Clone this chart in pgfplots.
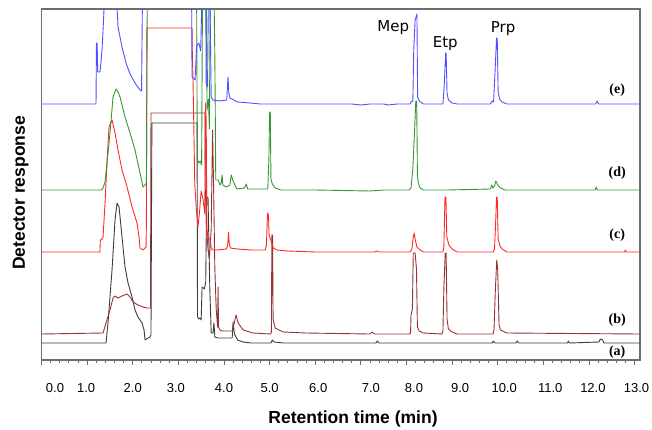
\documentclass[border=0pt]{standalone}
\usepackage{fontspec}
\setmainfont{Liberation Sans}
\newfontfamily\lserif{Liberation Serif}
\newfontfamily\dejavu{DejaVu Sans}
\usepackage{pgfplots}
\pgfplotsset{compat=1.18}
\definecolor{cblue}{RGB}{80,80,255}
\definecolor{cgreen}{RGB}{50,150,50}
\definecolor{cred}{RGB}{255,40,40}
\definecolor{cbrown}{RGB}{150,50,50}
\definecolor{cblack}{RGB}{60,60,60}
\definecolor{axgray}{RGB}{110,110,110}
\newcommand{\xtl}[2]{\makebox[0pt]{\hspace*{#1}#2}}
\begin{document}
\begin{tikzpicture}
\path[use as bounding box] (0,0) rectangle (652pt,429pt);
\begin{axis}[
  at={(41.5pt,69pt)}, anchor=south west,
  scale only axis, width=598.5pt, height=351pt,
  xmin=0, xmax=13.12, ymin=69, ymax=420,
  ytick=\empty,
  xtick={0,1,...,13}, minor x tick num=4,
  xtick pos=left, tick align=outside,
  major tick length=5pt, minor tick length=3pt,
  axis line style={draw=axgray, line width=1.2pt},
  tick style={draw=axgray, line width=0.8pt},
  xticklabels={\xtl{27pt}{0.0},\xtl{-2pt}{1.0},\xtl{0pt}{2.0},\xtl{-5pt}{3.0},\xtl{0pt}{4.0},\xtl{0pt}{5.0},\xtl{6pt}{6.0},\xtl{20pt}{7.0},\xtl{15pt}{8.0},\xtl{16pt}{9.0},\xtl{13pt}{10.0},\xtl{14pt}{11.0},\xtl{8pt}{12.0},\xtl{4pt}{13.0}},
  xticklabel style={font=\fontsize{13}{15}\selectfont, anchor=base, yshift=-27pt},
  xlabel={Retention time (min)},
  xlabel style={font=\bfseries\fontsize{17.5}{20}\selectfont, at={(axis description cs:0.5205,-0.1795)}, anchor=base},
  ylabel={Detector response},
  ylabel style={font=\bfseries\fontsize{17.5}{20}\selectfont, at={(axis description cs:-0.0276,0.476)}, anchor=base},
  every axis plot/.append style={line width=0.9pt, line join=round},
]
% (a) black
\addplot[cblack] coordinates {
(0,86)(1.414,86)(1.458,106)(1.546,159)(1.612,209)(1.656,226)(1.70,222)(1.765,192)(1.831,162)(1.897,146)(1.985,132)(2.050,119)(2.116,112)(2.204,106)(2.248,99)(2.270,89)(2.336,91)(2.379,92)(2.40,94)(2.42,306)(3.41,306)(3.42,112)(3.454,110)(3.476,111)(3.50,109)(3.52,142)(3.57,140)(3.60,147)(3.62,232)(3.65,232)(3.69,140)(3.72,96)(3.76,96)(3.78,106)(3.80,92)(3.87,91)(4.18,91)(4.20,107)(4.23,95)(4.30,89)(4.42,87)(4.6,86)(5.03,86)(5.06,89)(5.1,87)(5.3,86)(7.33,86)(7.36,88)(7.4,86)(9.88,86)(9.90,88)(9.94,86)(10.40,86)(10.43,88)(10.46,86)(11.53,86)(11.55,88)(11.57,86)(12.22,87)(12.25,90)(12.30,89)(12.33,86)(13.12,86)};
% (b) brown
\addplot[cbrown] coordinates {
(0,95)(1.349,96)(1.414,106)(1.502,119)(1.568,131)(1.612,133)(1.678,131)(1.765,133)(1.875,135)(1.941,132)(2.007,127)(2.116,124)(2.226,122)(2.314,121)(2.39,121)(2.40,316)(3.586,316)(3.59,240)(3.62,200)(3.65,180)(3.68,170)(3.72,200)(3.75,299)(3.77,250)(3.80,160)(3.83,120)(3.86,102)(3.871,142)(3.88,102)(3.914,99)(3.958,98)(4.178,98)(4.22,105)(4.265,114)(4.31,106)(4.42,99)(4.64,96)(5.02,95)(5.04,97)(5.05,194)(5.065,194)(5.077,110)(5.121,101)(5.296,97)(5.8,96)(7.2,95)(7.25,97)(7.3,95)(8.06,95)(8.09,96)(8.10,114)(8.13,120)(8.15,176)(8.19,176)(8.22,160)(8.24,102)(8.28,98)(8.37,96)(8.78,95)(8.80,98)(8.82,140)(8.85,176)(8.87,176)(8.89,110)(8.92,100)(9.0,97)(9.11,95)(9.90,95)(9.92,100)(9.95,140)(9.98,169)(10.0,160)(10.03,104)(10.06,99)(10.2,96)(13.12,95)};
% (c) red
\addplot[cred] coordinates {
(0,177)(1.28,177)(1.29,189)(1.327,190)(1.349,192)(1.393,226)(1.436,267)(1.48,302)(1.546,309)(1.612,296)(1.678,279)(1.765,259)(1.831,249)(1.875,242)(1.985,222)(2.094,206)(2.138,192)(2.16,181)(2.226,179)(2.27,181)(2.292,182)(2.30,209)(2.31,401)(3.30,401)(3.305,379)(3.32,352)(3.34,300)(3.36,245)(3.40,216)(3.43,202)(3.46,215)(3.50,238)(3.54,230)(3.58,215)(3.595,326)(3.61,310)(3.625,200)(3.66,189)(3.70,189)(3.72,181)(3.76,179)(3.85,179)(4.05,180)(4.08,183)(4.10,197)(4.115,186)(4.14,181)(4.3,180)(4.6,179)(4.90,179)(4.93,183)(4.955,216)(4.975,214)(4.99,193)(5.02,190)(5.08,181)(5.16,179)(5.4,178)(6.0,177)(7.3,177)(7.35,178)(7.4,177)(8.08,177)(8.12,180)(8.15,192)(8.17,196)(8.19,190)(8.23,182)(8.30,179)(8.37,177)(8.80,177)(8.82,182)(8.845,232)(8.865,232)(8.885,192)(8.93,184)(9.0,180)(9.11,177)(9.90,177)(9.93,180)(9.95,200)(9.975,232)(9.99,232)(10.01,190)(10.05,183)(10.1,180)(10.2,177)(12.78,177)(12.80,179)(12.82,177)(13.12,177)};
% (d) green
\addplot[cgreen] coordinates {
(0,239)(1.30,239)(1.34,240)(1.393,247)(1.436,266)(1.502,296)(1.568,332)(1.634,340)(1.68,337)(1.721,332)(1.831,312)(1.941,296)(2.050,279)(2.160,256)(2.226,242)(2.27,244)(2.30,246)(2.32,440)(3.40,440)(3.415,270)(3.45,266)(3.48,268)(3.51,264)(3.53,440)(3.61,440)(3.63,319)(3.66,330)(3.68,300)(3.70,440)(3.78,440)(3.80,372)(3.82,249)(3.87,249)(3.914,244)(3.94,246)(3.958,254)(3.975,244)(4.05,242)(4.13,244)(4.16,254)(4.20,248)(4.28,240)(4.45,241)(4.49,245)(4.52,240)(4.96,240)(4.985,270)(5.00,317)(5.015,317)(5.03,250)(5.06,245)(5.12,241)(5.25,239)(6.0,239)(7.2,238)(7.5,239)(8.06,239)(8.10,241)(8.14,260)(8.18,300)(8.205,328)(8.225,328)(8.24,255)(8.26,246)(8.30,241)(8.37,239)(8.9,239)(9.84,240)(9.87,244)(9.89,241)(9.93,243)(9.96,248)(10.0,244)(10.06,241)(10.16,239)(12.14,239)(12.16,242)(12.19,239)(13.12,239)};
% (e) blue
\addplot[cblue] coordinates {
(0,325)(1.195,325)(1.205,386)(1.22,386)(1.232,357)(1.283,357)(1.327,379)(1.36,409)(1.39,440)(1.634,440)(1.678,402)(1.765,382)(1.853,366)(1.941,355)(2.050,346)(2.160,339)(2.193,338)(2.215,440)(3.29,440)(3.30,352)(3.34,350)(3.366,349)(3.40,383)(3.45,386)(3.49,378)(3.52,440)(3.60,440)(3.61,346)(3.64,342)(3.66,440)(3.69,440)(3.72,332)(3.76,329)(3.90,328)(4.06,329)(4.08,345)(4.09,352)(4.105,337)(4.13,331)(4.30,327)(4.57,326)(4.8,325)(5.5,325)(6.8,325)(7.0,324)(7.2,325)(7.5,325)(7.6,324)(7.8,325)(8.08,325)(8.10,327)(8.14,328)(8.16,379)(8.19,409)(8.23,415)(8.245,332)(8.28,328)(8.37,325)(8.80,325)(8.83,345)(8.86,376)(8.87,376)(8.89,336)(8.92,329)(9.0,326)(9.11,325)(9.84,325)(9.88,328)(9.91,327)(9.945,360)(9.975,391)(9.99,391)(10.01,337)(10.04,330)(10.1,327)(10.2,325)(12.15,325)(12.18,328)(12.21,325)(13.12,325)};
% annotations
\node[font=\dejavu\fontsize{15}{18}\selectfont, anchor=base] at (axis cs:7.71,397) {Mep};
\node[font=\dejavu\fontsize{15}{18}\selectfont, anchor=base] at (axis cs:8.85,381) {Etp};
\node[font=\dejavu\fontsize{15}{18}\selectfont, anchor=base] at (axis cs:10.12,396) {Prp};
\node[font=\lserif\bfseries\fontsize{14}{16}\selectfont, anchor=base] at (axis cs:12.62,336) {(e)};
\node[font=\lserif\bfseries\fontsize{14}{16}\selectfont, anchor=base] at (axis cs:12.62,253) {(d)};
\node[font=\lserif\bfseries\fontsize{14}{16}\selectfont, anchor=base] at (axis cs:12.62,191) {(c)};
\node[font=\lserif\bfseries\fontsize{14}{16}\selectfont, anchor=base] at (axis cs:12.62,106) {(b)};
\node[font=\lserif\bfseries\fontsize{14}{16}\selectfont, anchor=base] at (axis cs:12.62,74) {(a)};
\end{axis}
\end{tikzpicture}
\end{document}
